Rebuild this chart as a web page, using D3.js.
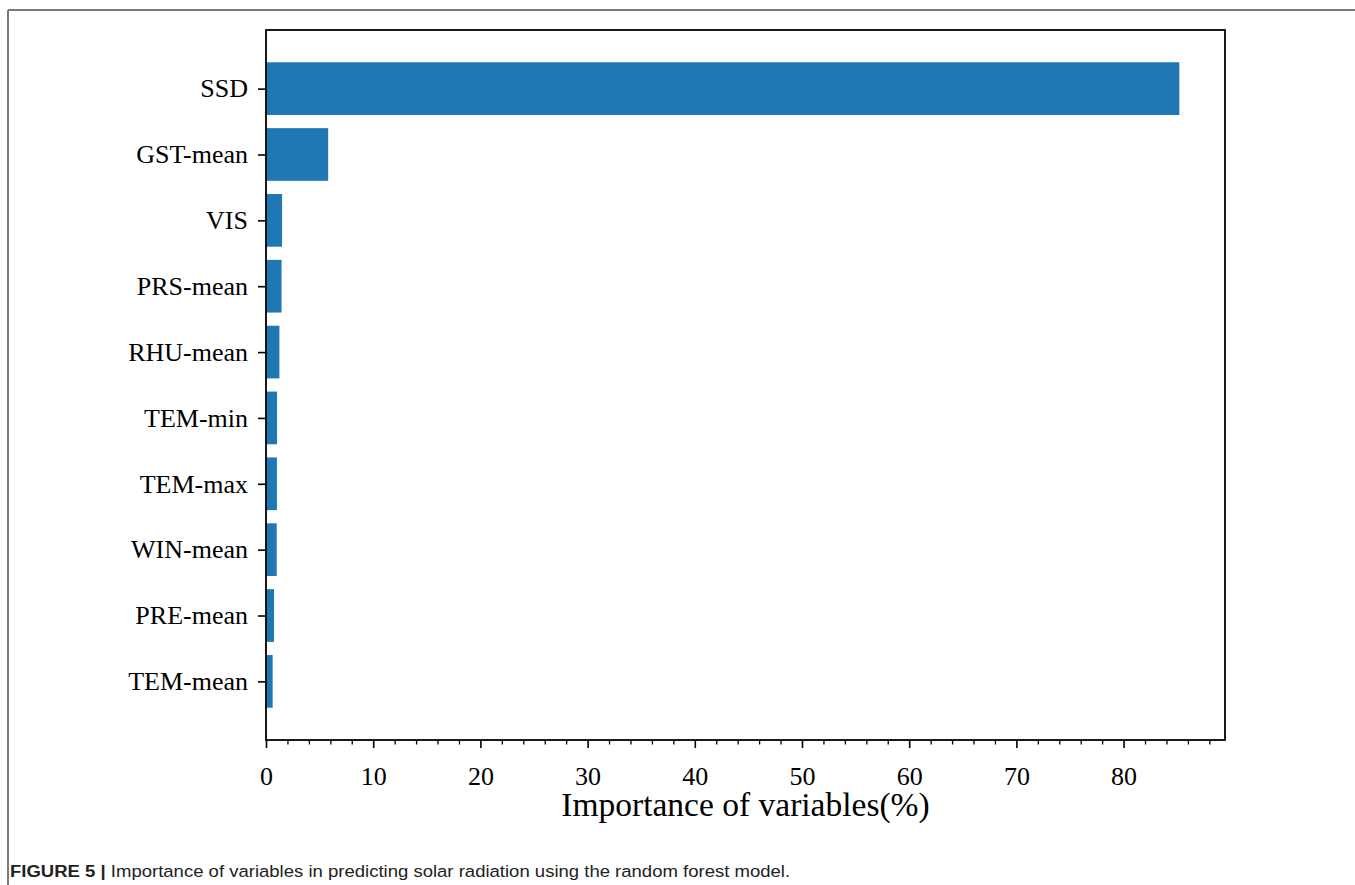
<!DOCTYPE html>
<html>
<head>
<meta charset="utf-8">
<script src="https://cdn.jsdelivr.net/npm/d3@7"></script>
<style>
  html, body { margin: 0; padding: 0; background: #fff; }
  svg { display: block; }
</style>
</head>
<body>
<svg id="chart" width="1355" height="885"></svg>
<script>
// Variable importance from the random forest model (%)
const variables = ["SSD", "GST-mean", "VIS", "PRS-mean", "RHU-mean", "TEM-min", "TEM-max", "WIN-mean", "PRE-mean", "TEM-mean"];
const importance = [85.2, 5.8, 1.5, 1.45, 1.25, 1.03, 1.02, 1.0, 0.75, 0.62];
const xTicks = [0, 10, 20, 30, 40, 50, 60, 70, 80];
const xLabel = "Importance of variables(%)";
const captionHead = "FIGURE 5 |";
const captionBody = " Importance of variables in predicting solar radiation using the random forest model.";

const svg = d3.select("#chart");
const W = 1355, H = 885;
const plot = { left: 266, right: 1225, top: 30, bottom: 740 };

// outer figure frame (top and left rules)
svg.append("line").attr("x1", 8).attr("x2", W).attr("y1", 10).attr("y2", 10)
  .attr("stroke", "#7a7a7a").attr("stroke-width", 2);
svg.append("line").attr("x1", 8).attr("x2", 8).attr("y1", 10).attr("y2", H)
  .attr("stroke", "#7a7a7a").attr("stroke-width", 2);

// x scale with 5% padding beyond the longest bar
const xMax = d3.max(importance) * 1.05;
const x = d3.scaleLinear().domain([0, xMax]).range([plot.left, plot.right]);

// y positions: bar centres at integer indices, 0.8 bar width, 5% margin
const n = variables.length;
const yPad = (n - 1 + 0.8) * 0.05 + 0.4;
const y = d3.scaleLinear().domain([-yPad, n - 1 + yPad]).range([plot.top, plot.bottom]);
const barH = y(0.8) - y(0);

const serif = "'Liberation Serif', 'Times New Roman', serif";
const tickFont = 26;

// bars
svg.append("g").selectAll("rect").data(variables).join("rect")
  .attr("x", x(0))
  .attr("y", (d, i) => y(i) - barH / 2)
  .attr("width", (d, i) => x(importance[i]) - x(0))
  .attr("height", barH)
  .attr("fill", "#1f77b4");

// y axis
const yAxis = svg.append("g").attr("transform", `translate(${plot.left},0)`)
  .call(d3.axisLeft(y).tickValues(d3.range(n)).tickFormat(i => variables[i]).tickSize(8).tickPadding(10));
yAxis.select(".domain").remove();
yAxis.selectAll(".tick line").attr("stroke", "#000").attr("stroke-width", 1.6);
yAxis.selectAll(".tick text").attr("font-family", serif).attr("font-size", tickFont).attr("fill", "#000");

// x axis: minor ticks every 2 units
const minor = d3.range(0, xMax, 2).filter(v => v % 10 !== 0);
const xMinor = svg.append("g").attr("transform", `translate(0,${plot.bottom})`)
  .call(d3.axisBottom(x).tickValues(minor).tickSize(4.5).tickFormat(""));
xMinor.select(".domain").remove();
xMinor.selectAll(".tick line").attr("stroke", "#000").attr("stroke-width", 1.3);

const xAxis = svg.append("g").attr("transform", `translate(0,${plot.bottom})`)
  .call(d3.axisBottom(x).tickValues(xTicks).tickSize(8).tickPadding(19));
xAxis.select(".domain").remove();
xAxis.selectAll(".tick line").attr("stroke", "#000").attr("stroke-width", 1.6);
xAxis.selectAll(".tick text").attr("font-family", serif).attr("font-size", tickFont).attr("fill", "#000");

// plot frame
svg.append("rect")
  .attr("x", plot.left).attr("y", plot.top)
  .attr("width", plot.right - plot.left).attr("height", plot.bottom - plot.top)
  .attr("fill", "none").attr("stroke", "#000").attr("stroke-width", 1.8);

// axis title
svg.append("text")
  .attr("x", (plot.left + plot.right) / 2).attr("y", 816)
  .attr("text-anchor", "middle")
  .attr("font-family", serif).attr("font-size", 33.5).attr("fill", "#000")
  .text(xLabel);

// caption, widened slightly to the figure's column
const cap = svg.append("text")
  .attr("transform", "translate(10,877) scale(1.09,1)")
  .attr("font-family", "'Liberation Sans', Arial, sans-serif")
  .attr("font-size", 17).attr("fill", "#222");
cap.append("tspan").attr("font-weight", "bold").text(captionHead);
cap.append("tspan").text(captionBody);
</script>
</body>
</html>
